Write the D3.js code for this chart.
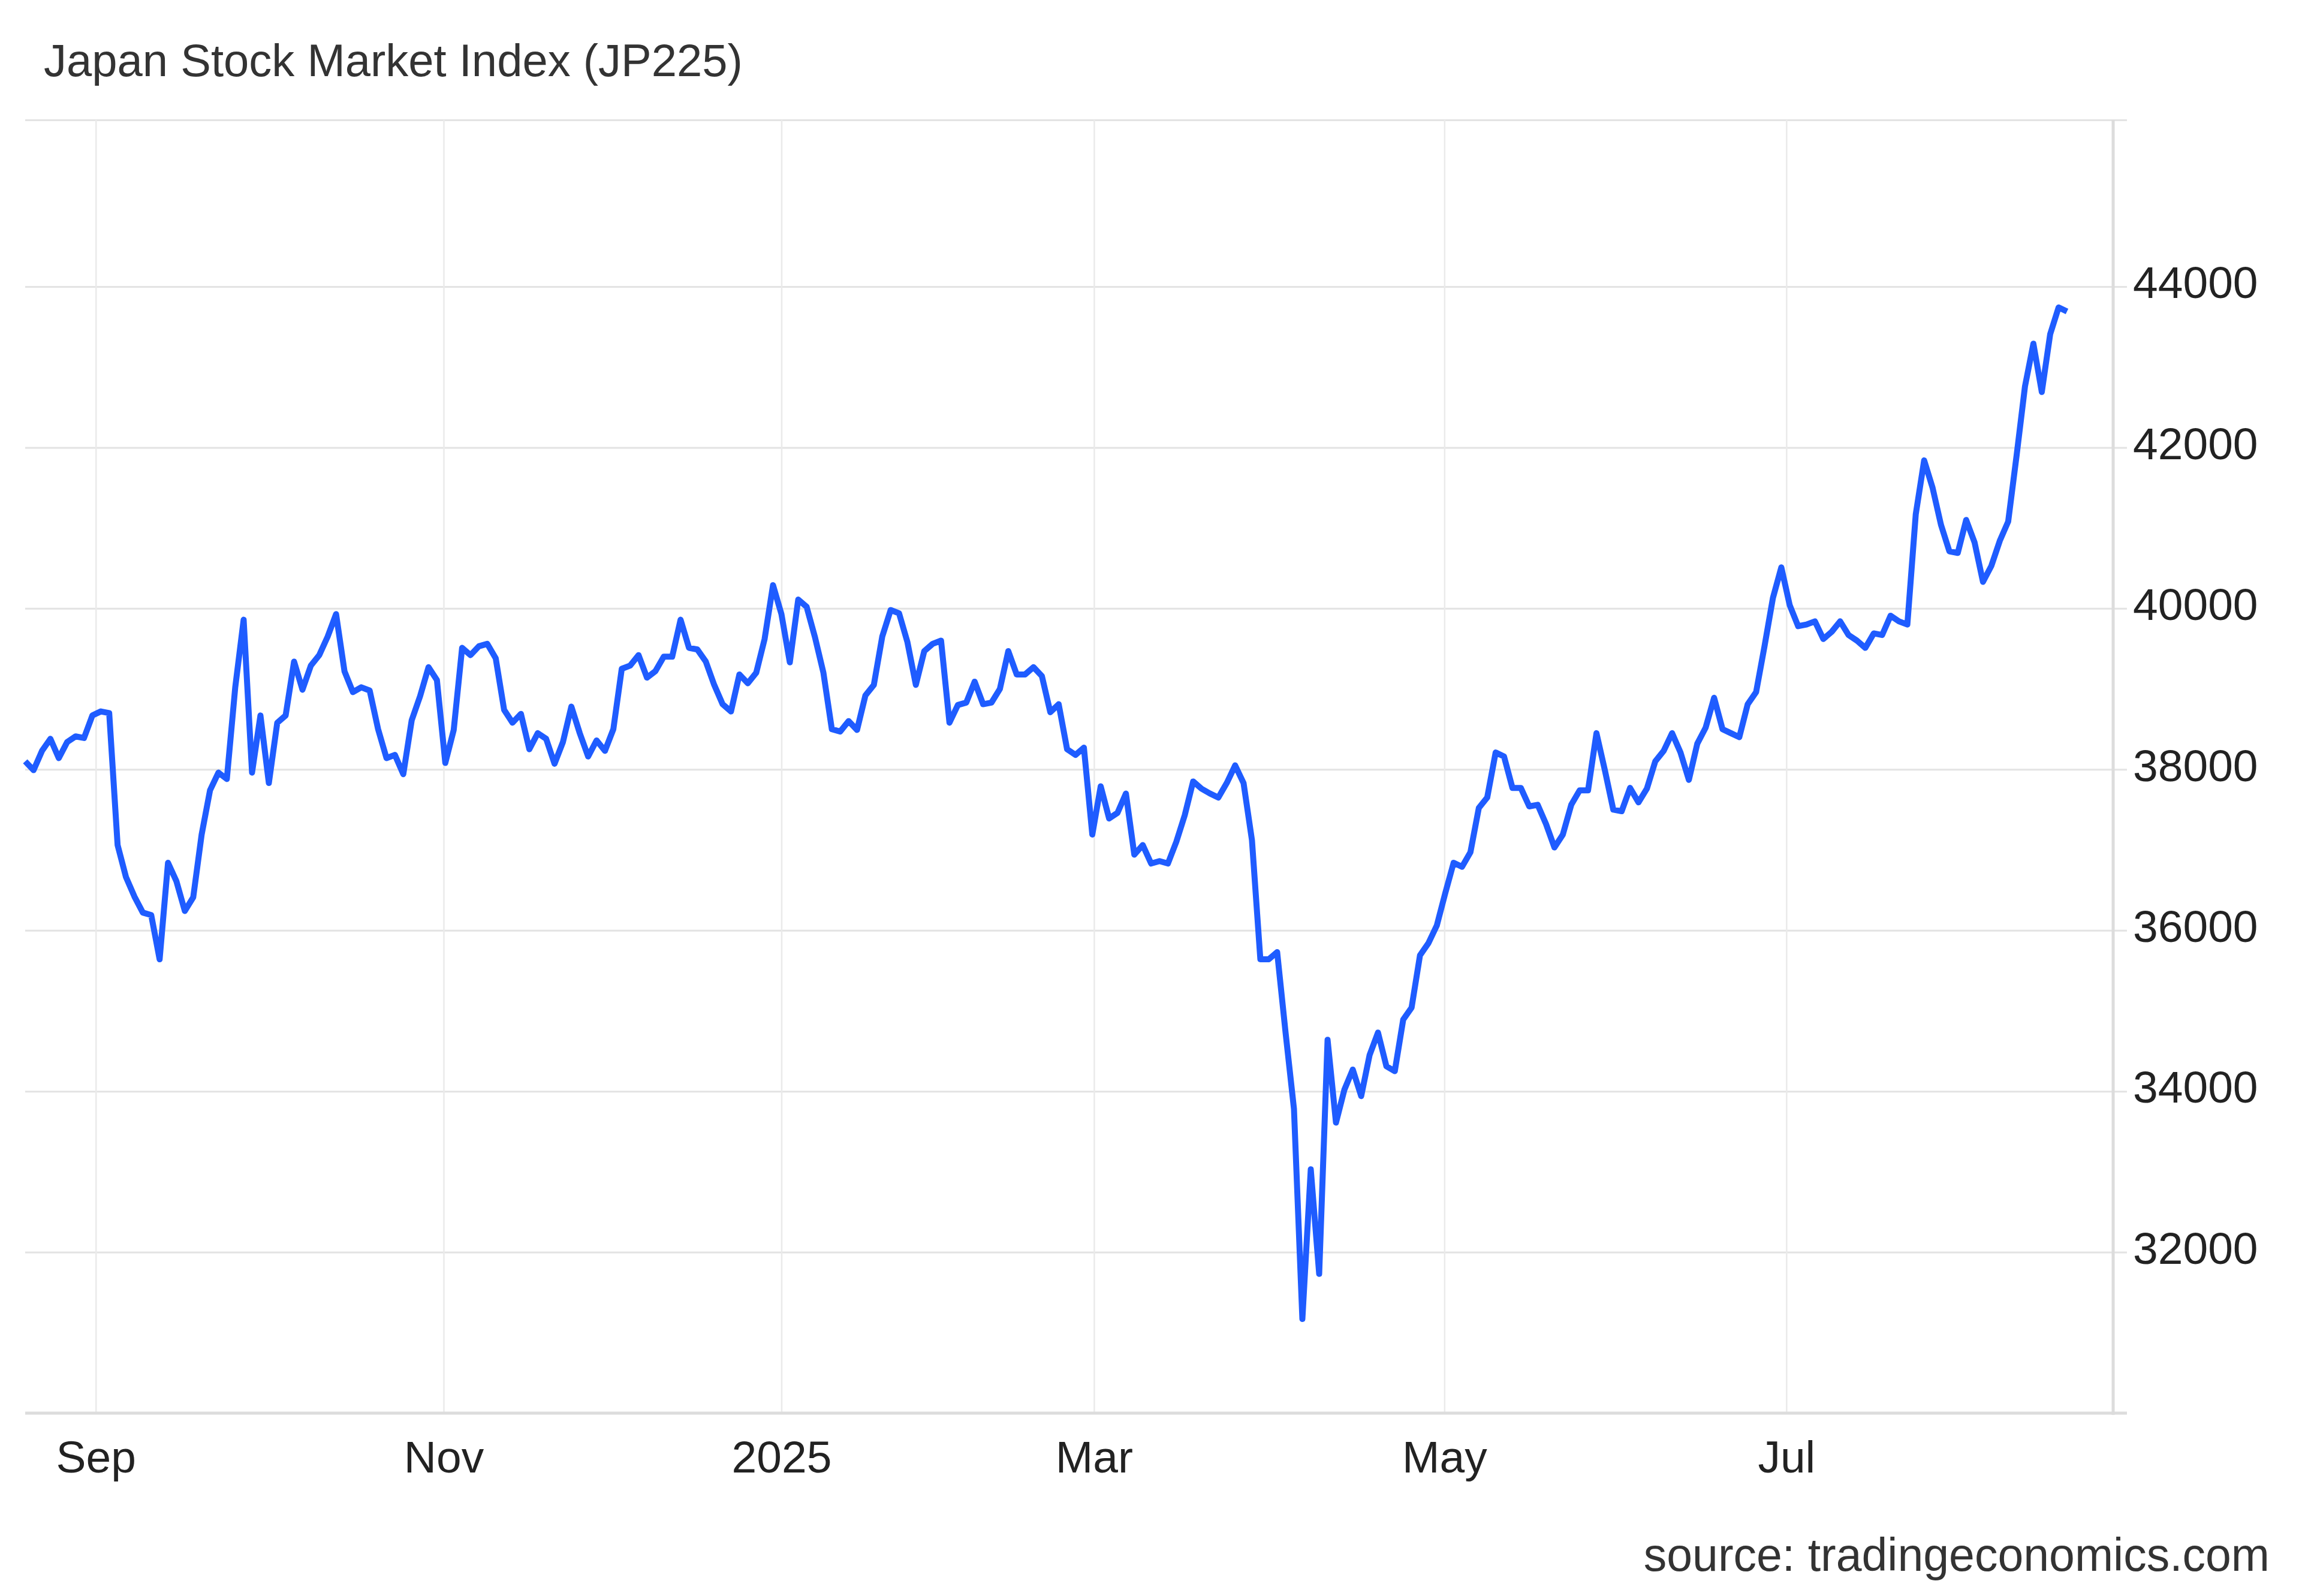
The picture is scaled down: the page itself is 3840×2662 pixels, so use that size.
<!DOCTYPE html>
<html><head><meta charset="utf-8">
<script src="https://cdn.jsdelivr.net/npm/d3@7"></script>
<style>body{margin:0;background:#fff}svg{display:block}text{font-family:"Liberation Sans",Arial,sans-serif}</style>
</head><body>
<script>
const title = "Japan Stock Market Index (JP225)";
const source = "source: tradingeconomics.com";
const values = [38100,37990,38230,38380,38140,38340,38410,38390,38670,38720,38700,37060,36660,36420,36220,36190,35640,36840,36610,36240,36410,37190,37740,37960,37880,39020,39860,37960,38670,37830,38580,38670,39340,38990,39290,39420,39650,39930,39220,38960,39020,38980,38500,38140,38180,37940,38610,38910,39270,39110,38080,38490,39510,39420,39530,39560,39380,38740,38580,38690,38250,38450,38380,38070,38340,38780,38450,38160,38360,38230,38500,39250,39290,39420,39140,39220,39400,39400,39860,39510,39490,39340,39050,38810,38720,39180,39070,39200,39620,40290,39930,39330,40110,40020,39640,39200,38500,38470,38600,38490,38920,39050,39650,39980,39940,39580,39050,39470,39560,39600,38580,38800,38830,39090,38810,38830,39000,39470,39180,39180,39270,39160,38710,38810,38250,38180,38270,37190,37790,37390,37460,37700,36940,37060,36830,36860,36830,37100,37430,37850,37760,37700,37650,37830,38050,37830,37120,35640,35640,35730,34730,33780,31170,33030,31730,34640,33610,34020,34270,33940,34450,34730,34310,34250,34890,35040,35690,35840,36060,36460,36840,36790,36970,37520,37650,38210,38160,37770,37770,37540,37560,37320,37030,37190,37560,37740,37740,38450,37990,37500,37480,37770,37590,37760,38100,38230,38450,38210,37870,38320,38520,38890,38500,38450,38400,38810,38960,39530,40130,40510,40040,39780,39800,39840,39620,39710,39840,39670,39600,39510,39690,39670,39910,39840,39800,41170,41840,41500,41040,40710,40690,41100,40820,40330,40530,40840,41080,41900,42760,43290,42690,43410,43740,43690];
const xTickLabels = ["Sep","Nov","2025","Mar","May","Jul"];
const xTickIndex = [8.4,49.8,90.0,127.2,168.9,209.6];
const yTicks = [32000,34000,36000,38000,40000,42000,44000];

const W=3840,H=2662;
const svg=d3.select("body").append("svg").attr("width",W).attr("height",H);
const x=d3.scaleLinear().domain([0,values.length-1]).range([42,3448]);
const y=d3.scaleLinear().domain([30000,46071]).range([2357,200]);

svg.append("text").attr("x",73).attr("y",127).attr("font-size",76).attr("fill","#333").text(title);

const gy=svg.append("g").attr("transform","translate(42,0)")
  .call(d3.axisLeft(y).tickValues(yTicks.concat([46071])).tickSize(-3506).tickFormat(""));
gy.select(".domain").remove();
gy.selectAll("line").attr("stroke","#e3e3e3").attr("stroke-width",3);

const gx=svg.append("g").attr("transform","translate(0,200)")
  .call(d3.axisBottom(x).tickValues(xTickIndex).tickSize(2157).tickFormat(""));
gx.select(".domain").remove();
gx.selectAll("line").attr("stroke","#eaeaea").attr("stroke-width",2.5);

svg.append("line").attr("x1",3525).attr("x2",3525).attr("y1",200).attr("y2",2360).attr("stroke","#dcdcdc").attr("stroke-width",5);
svg.append("line").attr("x1",42).attr("x2",3548).attr("y1",y(30000)).attr("y2",y(30000)).attr("stroke","#dcdcdc").attr("stroke-width",5);

const ya=svg.append("g").attr("transform","translate(3558,0)")
  .call(d3.axisRight(y).tickValues(yTicks).tickSize(0).tickPadding(0).tickFormat(d3.format("d")));
ya.select(".domain").remove();
ya.selectAll("text").attr("font-size",75).attr("fill","#222").attr("font-family","Liberation Sans, Arial, sans-serif").attr("dy","0.25em");

const xa=svg.append("g").attr("transform","translate(0,2357)")
  .call(d3.axisBottom(x).tickValues(xTickIndex).tickSize(0).tickPadding(0).tickFormat((d,i)=>xTickLabels[i]));
xa.select(".domain").remove();
xa.selectAll("text").attr("font-size",75).attr("fill","#222").attr("font-family","Liberation Sans, Arial, sans-serif").attr("dy",null).attr("y",99);

svg.append("path").datum(values)
  .attr("d",d3.line().x((d,i)=>x(i)).y(d=>y(d)))
  .attr("fill","none").attr("stroke","#1f5cff").attr("stroke-width",10).attr("stroke-linejoin","round");

svg.append("text").attr("x",3786).attr("y",2620).attr("text-anchor","end").attr("font-size",77).attr("fill","#333").text(source);
</script>
</body></html>
